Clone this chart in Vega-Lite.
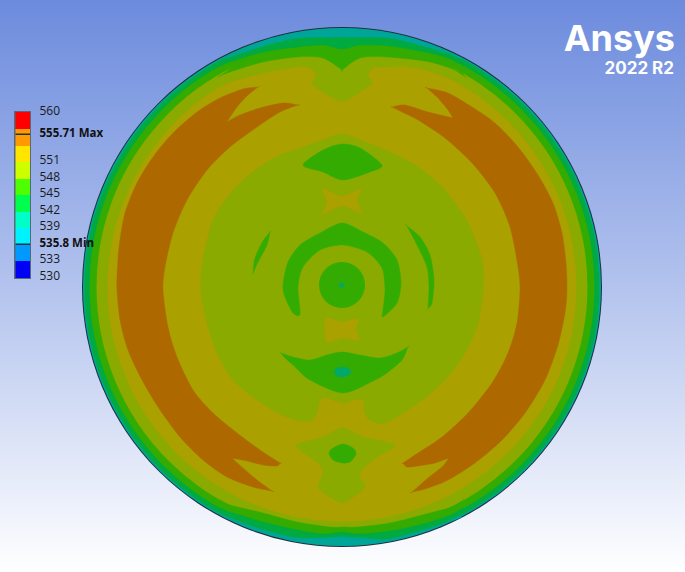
{"$schema":"https://vega.github.io/schema/vega-lite/v6.json","width":685,"height":572,"padding":0,"autosize":{"type":"none"},"config":{"view":{"stroke":null}},
"datasets":{
"bg":[{"x0":0,"x1":685,"y0":0,"y1":572}],
"rings":[{"c":"outline","cx":342,"cy":287,"r":260},{"c":"teal","cx":342,"cy":287,"r":259},{"c":"dgreen","cx":342,"cy":287,"r":257.5},{"c":"green","cx":342,"cy":287,"r":252.5},{"c":"olive","cx":342,"cy":287,"r":245.5},{"c":"yellow","cx":342,"cy":287,"r":234.5}],
"discs":[{"c":"green","cx":342,"cy":285,"r":23},{"c":"dot","cx":341.5,"cy":285,"r":2.5}],
"polys":[
{"s":"t1","c":"olive","x":222,"y":87},{"s":"t1","c":"olive","x":222,"y":87},{"s":"t1","c":"olive","x":230,"y":82},{"s":"t1","c":"olive","x":263,"y":73},{"s":"t1","c":"olive","x":297,"y":67},{"s":"t1","c":"olive","x":310,"y":68},{"s":"t1","c":"olive","x":316,"y":75},{"s":"t1","c":"olive","x":312,"y":83},{"s":"t1","c":"olive","x":320,"y":90},{"s":"t1","c":"olive","x":342,"y":101},{"s":"t1","c":"olive","x":363,"y":90},{"s":"t1","c":"olive","x":372,"y":83},{"s":"t1","c":"olive","x":368,"y":75},{"s":"t1","c":"olive","x":373,"y":68},{"s":"t1","c":"olive","x":387,"y":67},{"s":"t1","c":"olive","x":417,"y":68},{"s":"t1","c":"olive","x":460,"y":82},{"s":"t1","c":"olive","x":465,"y":87},{"s":"t1","c":"olive","x":465,"y":87},{"s":"t1","c":"olive","x":430,"y":62},{"s":"t1","c":"olive","x":400,"y":50},{"s":"t1","c":"olive","x":342,"y":40},{"s":"t1","c":"olive","x":280,"y":50},{"s":"t1","c":"olive","x":254,"y":62},
{"s":"t2","c":"green","x":220,"y":76},{"s":"t2","c":"green","x":220,"y":76},{"s":"t2","c":"green","x":230,"y":72},{"s":"t2","c":"green","x":263,"y":62},{"s":"t2","c":"green","x":297,"y":57},{"s":"t2","c":"green","x":323,"y":58},{"s":"t2","c":"green","x":342,"y":70},{"s":"t2","c":"green","x":342,"y":70},{"s":"t2","c":"green","x":360,"y":58},{"s":"t2","c":"green","x":387,"y":57},{"s":"t2","c":"green","x":430,"y":62},{"s":"t2","c":"green","x":460,"y":72},{"s":"t2","c":"green","x":464,"y":76},{"s":"t2","c":"green","x":464,"y":76},{"s":"t2","c":"green","x":430,"y":54},{"s":"t2","c":"green","x":400,"y":45},{"s":"t2","c":"green","x":342,"y":35},{"s":"t2","c":"green","x":285,"y":45},{"s":"t2","c":"green","x":254,"y":54},
{"s":"t3","c":"dgreen","x":222,"y":65},{"s":"t3","c":"dgreen","x":222,"y":65},{"s":"t3","c":"dgreen","x":230,"y":62},{"s":"t3","c":"dgreen","x":263,"y":52},{"s":"t3","c":"dgreen","x":297,"y":47},{"s":"t3","c":"dgreen","x":323,"y":45},{"s":"t3","c":"dgreen","x":342,"y":49},{"s":"t3","c":"dgreen","x":360,"y":45},{"s":"t3","c":"dgreen","x":390,"y":46},{"s":"t3","c":"dgreen","x":430,"y":53},{"s":"t3","c":"dgreen","x":460,"y":62},{"s":"t3","c":"dgreen","x":462,"y":65},{"s":"t3","c":"dgreen","x":462,"y":65},{"s":"t3","c":"dgreen","x":430,"y":47},{"s":"t3","c":"dgreen","x":400,"y":40},{"s":"t3","c":"dgreen","x":342,"y":31},{"s":"t3","c":"dgreen","x":285,"y":40},{"s":"t3","c":"dgreen","x":254,"y":47},
{"s":"t4","c":"teal","x":225,"y":58},{"s":"t4","c":"teal","x":225,"y":58},{"s":"t4","c":"teal","x":230,"y":57},{"s":"t4","c":"teal","x":263,"y":46},{"s":"t4","c":"teal","x":297,"y":38},{"s":"t4","c":"teal","x":342,"y":37},{"s":"t4","c":"teal","x":390,"y":38},{"s":"t4","c":"teal","x":430,"y":48},{"s":"t4","c":"teal","x":460,"y":57},{"s":"t4","c":"teal","x":459,"y":58},{"s":"t4","c":"teal","x":459,"y":58},{"s":"t4","c":"teal","x":430,"y":44.5},{"s":"t4","c":"teal","x":400,"y":35.2},{"s":"t4","c":"teal","x":371,"y":30.5},{"s":"t4","c":"teal","x":342,"y":28.8},{"s":"t4","c":"teal","x":313,"y":30.5},{"s":"t4","c":"teal","x":285,"y":35.2},{"s":"t4","c":"teal","x":255,"y":44.5},
{"s":"b2","c":"green","x":222,"y":501},{"s":"b2","c":"green","x":222,"y":501},{"s":"b2","c":"green","x":230,"y":505},{"s":"b2","c":"green","x":263,"y":513},{"s":"b2","c":"green","x":297,"y":522},{"s":"b2","c":"green","x":330,"y":527},{"s":"b2","c":"green","x":343,"y":527},{"s":"b2","c":"green","x":357,"y":527},{"s":"b2","c":"green","x":390,"y":523},{"s":"b2","c":"green","x":430,"y":513},{"s":"b2","c":"green","x":460,"y":505},{"s":"b2","c":"green","x":462,"y":501},{"s":"b2","c":"green","x":462,"y":501},{"s":"b2","c":"green","x":430,"y":522},{"s":"b2","c":"green","x":400,"y":535},{"s":"b2","c":"green","x":342,"y":541},{"s":"b2","c":"green","x":285,"y":535},{"s":"b2","c":"green","x":254,"y":522},
{"s":"b3","c":"dgreen","x":222,"y":509},{"s":"b3","c":"dgreen","x":222,"y":509},{"s":"b3","c":"dgreen","x":230,"y":512},{"s":"b3","c":"dgreen","x":263,"y":522},{"s":"b3","c":"dgreen","x":297,"y":530},{"s":"b3","c":"dgreen","x":323,"y":534},{"s":"b3","c":"dgreen","x":342,"y":532},{"s":"b3","c":"dgreen","x":360,"y":534},{"s":"b3","c":"dgreen","x":397,"y":530},{"s":"b3","c":"dgreen","x":430,"y":522},{"s":"b3","c":"dgreen","x":460,"y":512},{"s":"b3","c":"dgreen","x":462,"y":509},{"s":"b3","c":"dgreen","x":462,"y":509},{"s":"b3","c":"dgreen","x":430,"y":527.5},{"s":"b3","c":"dgreen","x":400,"y":537},{"s":"b3","c":"dgreen","x":342,"y":543},{"s":"b3","c":"dgreen","x":285,"y":537},{"s":"b3","c":"dgreen","x":254,"y":527.5},
{"s":"b4","c":"teal","x":225,"y":516},{"s":"b4","c":"teal","x":225,"y":516},{"s":"b4","c":"teal","x":230,"y":518},{"s":"b4","c":"teal","x":263,"y":530},{"s":"b4","c":"teal","x":297,"y":538},{"s":"b4","c":"teal","x":323,"y":538},{"s":"b4","c":"teal","x":342,"y":537},{"s":"b4","c":"teal","x":360,"y":538},{"s":"b4","c":"teal","x":390,"y":539},{"s":"b4","c":"teal","x":430,"y":528},{"s":"b4","c":"teal","x":460,"y":518},{"s":"b4","c":"teal","x":459,"y":516},{"s":"b4","c":"teal","x":459,"y":516},{"s":"b4","c":"teal","x":430,"y":529.5},{"s":"b4","c":"teal","x":400,"y":538.8},{"s":"b4","c":"teal","x":371,"y":543.5},{"s":"b4","c":"teal","x":342,"y":545.2},{"s":"b4","c":"teal","x":313,"y":543.5},{"s":"b4","c":"teal","x":285,"y":538.8},{"s":"b4","c":"teal","x":255,"y":529.5},
{"s":"L","c":"brown","x":258,"y":87},{"s":"L","c":"brown","x":258,"y":87},{"s":"L","c":"brown","x":243,"y":89},{"s":"L","c":"brown","x":220,"y":98},{"s":"L","c":"brown","x":197,"y":112},{"s":"L","c":"brown","x":173,"y":133},{"s":"L","c":"brown","x":153,"y":157},{"s":"L","c":"brown","x":137,"y":183},{"s":"L","c":"brown","x":125,"y":213},{"s":"L","c":"brown","x":119,"y":247},{"s":"L","c":"brown","x":117,"y":277},{"s":"L","c":"brown","x":117,"y":290},{"s":"L","c":"brown","x":120,"y":320},{"s":"L","c":"brown","x":128,"y":350},{"s":"L","c":"brown","x":142,"y":380},{"s":"L","c":"brown","x":160,"y":410},{"s":"L","c":"brown","x":180,"y":437},{"s":"L","c":"brown","x":203,"y":460},{"s":"L","c":"brown","x":227,"y":477},{"s":"L","c":"brown","x":253,"y":487},{"s":"L","c":"brown","x":272,"y":491},{"s":"L","c":"brown","x":272,"y":491},{"s":"L","c":"brown","x":257,"y":480},{"s":"L","c":"brown","x":243,"y":468},{"s":"L","c":"brown","x":232,"y":458},{"s":"L","c":"brown","x":232,"y":458},{"s":"L","c":"brown","x":247,"y":461},{"s":"L","c":"brown","x":263,"y":465},{"s":"L","c":"brown","x":277,"y":466},{"s":"L","c":"brown","x":280,"y":463},{"s":"L","c":"brown","x":280,"y":463},{"s":"L","c":"brown","x":260,"y":450},{"s":"L","c":"brown","x":237,"y":433},{"s":"L","c":"brown","x":213,"y":413},{"s":"L","c":"brown","x":193,"y":390},{"s":"L","c":"brown","x":177,"y":357},{"s":"L","c":"brown","x":168,"y":327},{"s":"L","c":"brown","x":163,"y":290},{"s":"L","c":"brown","x":165,"y":267},{"s":"L","c":"brown","x":173,"y":233},{"s":"L","c":"brown","x":187,"y":200},{"s":"L","c":"brown","x":207,"y":170},{"s":"L","c":"brown","x":230,"y":147},{"s":"L","c":"brown","x":257,"y":127},{"s":"L","c":"brown","x":280,"y":112},{"s":"L","c":"brown","x":298,"y":105},{"s":"L","c":"brown","x":298,"y":105},{"s":"L","c":"brown","x":283,"y":103},{"s":"L","c":"brown","x":260,"y":108},{"s":"L","c":"brown","x":240,"y":115},{"s":"L","c":"brown","x":227,"y":122},{"s":"L","c":"brown","x":227,"y":122},{"s":"L","c":"brown","x":237,"y":107},{"s":"L","c":"brown","x":248,"y":95},
{"s":"R","c":"brown","x":427,"y":88},{"s":"R","c":"brown","x":427,"y":88},{"s":"R","c":"brown","x":448,"y":93},{"s":"R","c":"brown","x":472,"y":107},{"s":"R","c":"brown","x":495,"y":123},{"s":"R","c":"brown","x":518,"y":147},{"s":"R","c":"brown","x":538,"y":175},{"s":"R","c":"brown","x":553,"y":203},{"s":"R","c":"brown","x":562,"y":233},{"s":"R","c":"brown","x":566,"y":263},{"s":"R","c":"brown","x":567,"y":290},{"s":"R","c":"brown","x":565,"y":313},{"s":"R","c":"brown","x":558,"y":345},{"s":"R","c":"brown","x":545,"y":380},{"s":"R","c":"brown","x":525,"y":413},{"s":"R","c":"brown","x":502,"y":440},{"s":"R","c":"brown","x":475,"y":463},{"s":"R","c":"brown","x":448,"y":480},{"s":"R","c":"brown","x":425,"y":489},{"s":"R","c":"brown","x":412,"y":492},{"s":"R","c":"brown","x":412,"y":492},{"s":"R","c":"brown","x":428,"y":478},{"s":"R","c":"brown","x":442,"y":467},{"s":"R","c":"brown","x":449,"y":458},{"s":"R","c":"brown","x":449,"y":458},{"s":"R","c":"brown","x":435,"y":463},{"s":"R","c":"brown","x":418,"y":466},{"s":"R","c":"brown","x":407,"y":467},{"s":"R","c":"brown","x":403,"y":463},{"s":"R","c":"brown","x":403,"y":463},{"s":"R","c":"brown","x":418,"y":453},{"s":"R","c":"brown","x":442,"y":437},{"s":"R","c":"brown","x":468,"y":413},{"s":"R","c":"brown","x":492,"y":383},{"s":"R","c":"brown","x":508,"y":353},{"s":"R","c":"brown","x":517,"y":323},{"s":"R","c":"brown","x":520,"y":290},{"s":"R","c":"brown","x":518,"y":267},{"s":"R","c":"brown","x":510,"y":227},{"s":"R","c":"brown","x":495,"y":193},{"s":"R","c":"brown","x":472,"y":163},{"s":"R","c":"brown","x":445,"y":138},{"s":"R","c":"brown","x":418,"y":120},{"s":"R","c":"brown","x":402,"y":112},{"s":"R","c":"brown","x":392,"y":107},{"s":"R","c":"brown","x":392,"y":107},{"s":"R","c":"brown","x":405,"y":105},{"s":"R","c":"brown","x":428,"y":112},{"s":"R","c":"brown","x":453,"y":118},{"s":"R","c":"brown","x":453,"y":118},{"s":"R","c":"brown","x":448,"y":110},{"s":"R","c":"brown","x":438,"y":98},
{"s":"in","c":"olive","x":201,"y":290},{"s":"in","c":"olive","x":203,"y":260},{"s":"in","c":"olive","x":213,"y":220},{"s":"in","c":"olive","x":233,"y":190},{"s":"in","c":"olive","x":258,"y":168},{"s":"in","c":"olive","x":280,"y":155},{"s":"in","c":"olive","x":300,"y":148},{"s":"in","c":"olive","x":320,"y":141},{"s":"in","c":"olive","x":342,"y":134},{"s":"in","c":"olive","x":360,"y":140},{"s":"in","c":"olive","x":390,"y":152},{"s":"in","c":"olive","x":418,"y":167},{"s":"in","c":"olive","x":445,"y":190},{"s":"in","c":"olive","x":468,"y":223},{"s":"in","c":"olive","x":482,"y":260},{"s":"in","c":"olive","x":483,"y":290},{"s":"in","c":"olive","x":478,"y":323},{"s":"in","c":"olive","x":465,"y":353},{"s":"in","c":"olive","x":445,"y":380},{"s":"in","c":"olive","x":418,"y":403},{"s":"in","c":"olive","x":385,"y":423},{"s":"in","c":"olive","x":370,"y":420},{"s":"in","c":"olive","x":365,"y":413},{"s":"in","c":"olive","x":362,"y":399},{"s":"in","c":"olive","x":343,"y":403},{"s":"in","c":"olive","x":327,"y":398},{"s":"in","c":"olive","x":320,"y":400},{"s":"in","c":"olive","x":317,"y":413},{"s":"in","c":"olive","x":312,"y":420},{"s":"in","c":"olive","x":300,"y":421},{"s":"in","c":"olive","x":280,"y":414},{"s":"in","c":"olive","x":257,"y":400},{"s":"in","c":"olive","x":233,"y":380},{"s":"in","c":"olive","x":217,"y":353},{"s":"in","c":"olive","x":207,"y":323},
{"s":"bt","c":"yellow","x":323,"y":189},{"s":"bt","c":"yellow","x":342,"y":196},{"s":"bt","c":"yellow","x":361,"y":189},{"s":"bt","c":"yellow","x":357,"y":200},{"s":"bt","c":"yellow","x":361,"y":213},{"s":"bt","c":"yellow","x":342,"y":206},{"s":"bt","c":"yellow","x":323,"y":214},{"s":"bt","c":"yellow","x":327,"y":202},
{"s":"bl","c":"yellow","x":326,"y":318},{"s":"bl","c":"yellow","x":342,"y":322},{"s":"bl","c":"yellow","x":358,"y":319},{"s":"bl","c":"yellow","x":356,"y":330},{"s":"bl","c":"yellow","x":359,"y":340},{"s":"bl","c":"yellow","x":342,"y":338},{"s":"bl","c":"yellow","x":327,"y":342},{"s":"bl","c":"yellow","x":325,"y":330},
{"s":"d","c":"green","x":303,"y":165},{"s":"d","c":"green","x":323,"y":150},{"s":"d","c":"green","x":342,"y":144},{"s":"d","c":"green","x":360,"y":148},{"s":"d","c":"green","x":382,"y":165},{"s":"d","c":"green","x":370,"y":172},{"s":"d","c":"green","x":343,"y":180},{"s":"d","c":"green","x":323,"y":172},
{"s":"a","c":"green","x":283,"y":285},{"s":"a","c":"green","x":288,"y":262},{"s":"a","c":"green","x":300,"y":245},{"s":"a","c":"green","x":320,"y":233},{"s":"a","c":"green","x":342,"y":223},{"s":"a","c":"green","x":363,"y":232},{"s":"a","c":"green","x":383,"y":243},{"s":"a","c":"green","x":397,"y":260},{"s":"a","c":"green","x":401,"y":283},{"s":"a","c":"green","x":397,"y":303},{"s":"a","c":"green","x":383,"y":317},{"s":"a","c":"green","x":383,"y":310},{"s":"a","c":"green","x":385,"y":290},{"s":"a","c":"green","x":382,"y":268},{"s":"a","c":"green","x":367,"y":252},{"s":"a","c":"green","x":343,"y":245},{"s":"a","c":"green","x":320,"y":250},{"s":"a","c":"green","x":303,"y":267},{"s":"a","c":"green","x":298,"y":287},{"s":"a","c":"green","x":300,"y":314},{"s":"a","c":"green","x":293,"y":313},{"s":"a","c":"green","x":285,"y":297},
{"s":"cl","c":"green","x":270,"y":232},{"s":"cl","c":"green","x":270,"y":232},{"s":"cl","c":"green","x":263,"y":241},{"s":"cl","c":"green","x":255,"y":258},{"s":"cl","c":"green","x":253,"y":273},{"s":"cl","c":"green","x":253,"y":273},{"s":"cl","c":"green","x":258,"y":262},{"s":"cl","c":"green","x":267,"y":245},
{"s":"cr","c":"green","x":407,"y":226},{"s":"cr","c":"green","x":407,"y":226},{"s":"cr","c":"green","x":420,"y":237},{"s":"cr","c":"green","x":430,"y":255},{"s":"cr","c":"green","x":434,"y":280},{"s":"cr","c":"green","x":432,"y":303},{"s":"cr","c":"green","x":428,"y":308},{"s":"cr","c":"green","x":428,"y":308},{"s":"cr","c":"green","x":429,"y":287},{"s":"cr","c":"green","x":427,"y":267},{"s":"cr","c":"green","x":418,"y":247},
{"s":"m","c":"green","x":281,"y":353},{"s":"m","c":"green","x":281,"y":353},{"s":"m","c":"green","x":293,"y":357},{"s":"m","c":"green","x":310,"y":360},{"s":"m","c":"green","x":327,"y":355},{"s":"m","c":"green","x":342,"y":352},{"s":"m","c":"green","x":360,"y":355},{"s":"m","c":"green","x":380,"y":358},{"s":"m","c":"green","x":397,"y":353},{"s":"m","c":"green","x":408,"y":347},{"s":"m","c":"green","x":408,"y":347},{"s":"m","c":"green","x":402,"y":360},{"s":"m","c":"green","x":387,"y":373},{"s":"m","c":"green","x":373,"y":381},{"s":"m","c":"green","x":343,"y":393},{"s":"m","c":"green","x":310,"y":380},{"s":"m","c":"green","x":293,"y":365},{"s":"m","c":"green","x":285,"y":358},
{"s":"e","c":"dot","x":334,"y":372},{"s":"e","c":"dot","x":337,"y":368},{"s":"e","c":"dot","x":343,"y":367},{"s":"e","c":"dot","x":349,"y":369},{"s":"e","c":"dot","x":351,"y":372},{"s":"e","c":"dot","x":348,"y":375},{"s":"e","c":"dot","x":343,"y":377},{"s":"e","c":"dot","x":337,"y":376},
{"s":"st","c":"olive","x":343,"y":428},{"s":"st","c":"olive","x":363,"y":437},{"s":"st","c":"olive","x":395,"y":445},{"s":"st","c":"olive","x":377,"y":457},{"s":"st","c":"olive","x":362,"y":470},{"s":"st","c":"olive","x":360,"y":477},{"s":"st","c":"olive","x":365,"y":487},{"s":"st","c":"olive","x":353,"y":497},{"s":"st","c":"olive","x":342,"y":503},{"s":"st","c":"olive","x":327,"y":495},{"s":"st","c":"olive","x":318,"y":487},{"s":"st","c":"olive","x":323,"y":473},{"s":"st","c":"olive","x":318,"y":463},{"s":"st","c":"olive","x":297,"y":448},{"s":"st","c":"olive","x":300,"y":443},{"s":"st","c":"olive","x":323,"y":437},
{"s":"g","c":"green","x":343,"y":444},{"s":"g","c":"green","x":353,"y":448},{"s":"g","c":"green","x":356,"y":454},{"s":"g","c":"green","x":350,"y":462},{"s":"g","c":"green","x":342,"y":463},{"s":"g","c":"green","x":333,"y":460},{"s":"g","c":"green","x":329,"y":453},{"s":"g","c":"green","x":333,"y":448}
],
"legend":[{"c":"frame","x0":14,"x1":31,"y0":111,"y1":279},{"c":"l10","x0":15.5,"x1":30,"y0":112,"y1":129},{"c":"l9","x0":15.5,"x1":30,"y0":129,"y1":146},{"c":"l8","x0":15.5,"x1":30,"y0":146,"y1":162},{"c":"l7","x0":15.5,"x1":30,"y0":162,"y1":179},{"c":"l6","x0":15.5,"x1":30,"y0":179,"y1":195},{"c":"l5","x0":15.5,"x1":30,"y0":195,"y1":212},{"c":"l4","x0":15.5,"x1":30,"y0":212,"y1":228},{"c":"l3","x0":15.5,"x1":30,"y0":228,"y1":245},{"c":"l2","x0":15.5,"x1":30,"y0":245,"y1":261},{"c":"l1","x0":15.5,"x1":30,"y0":261,"y1":278},{"c":"outline","x0":15.5,"x1":30,"y0":133.5,"y1":135},{"c":"outline","x0":15.5,"x1":30,"y0":243.5,"y1":245}],
"lab":[{"t":"560","x":39.5,"y":111},{"t":"551","x":39.5,"y":160},{"t":"548","x":39.5,"y":177},{"t":"545","x":39.5,"y":193},{"t":"542","x":39.5,"y":210},{"t":"539","x":39.5,"y":226},{"t":"533","x":39.5,"y":259},{"t":"530","x":39.5,"y":276}],
"labb":[{"t":"555.71 Max","x":39.5,"y":134},{"t":"535.8 Min","x":39.5,"y":244}],
"logo1":[{"t":"Ansys","x":675,"y":51}],
"logo2":[{"t":"2022 R2","x":674,"y":74}]
},
"layer":[
{"data":{"name":"bg"},"mark":{"type":"rect","fill":{"gradient":"linear","x1":0,"y1":0,"x2":0,"y2":1,"stops":[{"offset":0,"color":"#6C8BDD"},{"offset":0.5,"color":"#B3C3EE"},{"offset":1,"color":"#FFFFFF"}]}},"encoding":{"x":{"field":"x0","type":"quantitative","scale":{"domain":[0,685],"nice":false,"zero":false},"axis":null},"x2":{"field":"x1"},"y":{"field":"y0","type":"quantitative","scale":{"domain":[572,0],"nice":false,"zero":false},"axis":null},"y2":{"field":"y1"}}},
{"data":{"name":"rings"},"mark":{"type":"arc","theta":0,"theta2":6.2832},"encoding":{"x":{"field":"cx","type":"quantitative","scale":{"domain":[0,685],"nice":false,"zero":false},"axis":null},"y":{"field":"cy","type":"quantitative","scale":{"domain":[572,0],"nice":false,"zero":false},"axis":null},"radius":{"field":"r","type":"quantitative","stack":null,"scale":{"domain":[0,572],"range":[0,572]}},"fill":{"field":"c","type":"nominal","legend":null,"scale":{"domain":["outline","teal","dgreen","green","olive","yellow","brown","dot","frame","l10","l9","l8","l7","l6","l5","l4","l3","l2","l1"],"range":["#22303C","#00A59A","#00AA40","#33AB00","#8AAA00","#AAA000","#AD6800","#00A86A","#5B6878","#FF0000","#FF9A00","#FFE500","#CCFF00","#4DFF00","#00FF4D","#00FFC8","#00F2FF","#009AFF","#0000F5"]}}}},
{"data":{"name":"polys"},"mark":{"type":"line","interpolate":"cardinal-closed","tension":0.2,"order":false,"strokeWidth":0.4},"encoding":{"x":{"field":"x","type":"quantitative","scale":{"domain":[0,685],"nice":false,"zero":false},"axis":null},"y":{"field":"y","type":"quantitative","scale":{"domain":[572,0],"nice":false,"zero":false},"axis":null},"detail":{"field":"s"},"fill":{"field":"c","type":"nominal","legend":null,"scale":{"domain":["outline","teal","dgreen","green","olive","yellow","brown","dot","frame","l10","l9","l8","l7","l6","l5","l4","l3","l2","l1"],"range":["#22303C","#00A59A","#00AA40","#33AB00","#8AAA00","#AAA000","#AD6800","#00A86A","#5B6878","#FF0000","#FF9A00","#FFE500","#CCFF00","#4DFF00","#00FF4D","#00FFC8","#00F2FF","#009AFF","#0000F5"]}},"stroke":{"field":"c","type":"nominal","legend":null,"scale":{"domain":["outline","teal","dgreen","green","olive","yellow","brown","dot","frame","l10","l9","l8","l7","l6","l5","l4","l3","l2","l1"],"range":["#22303C","#00A59A","#00AA40","#33AB00","#8AAA00","#AAA000","#AD6800","#00A86A","#5B6878","#FF0000","#FF9A00","#FFE500","#CCFF00","#4DFF00","#00FF4D","#00FFC8","#00F2FF","#009AFF","#0000F5"]}}}},
{"data":{"name":"discs"},"mark":{"type":"arc","theta":0,"theta2":6.2832},"encoding":{"x":{"field":"cx","type":"quantitative","scale":{"domain":[0,685],"nice":false,"zero":false},"axis":null},"y":{"field":"cy","type":"quantitative","scale":{"domain":[572,0],"nice":false,"zero":false},"axis":null},"radius":{"field":"r","type":"quantitative","stack":null,"scale":{"domain":[0,572],"range":[0,572]}},"fill":{"field":"c","type":"nominal","legend":null}}},
{"data":{"name":"legend"},"mark":{"type":"rect"},"encoding":{"x":{"field":"x0","type":"quantitative","scale":{"domain":[0,685],"nice":false,"zero":false},"axis":null},"x2":{"field":"x1"},"y":{"field":"y0","type":"quantitative","scale":{"domain":[572,0],"nice":false,"zero":false},"axis":null},"y2":{"field":"y1"},"fill":{"field":"c","type":"nominal","legend":null}}},
{"data":{"name":"lab"},"mark":{"type":"text","align":"left","baseline":"middle","font":"Open Sans","fontSize":12,"color":"#1a1a1a"},"encoding":{"x":{"field":"x","type":"quantitative","scale":{"domain":[0,685],"nice":false,"zero":false},"axis":null},"y":{"field":"y","type":"quantitative","scale":{"domain":[572,0],"nice":false,"zero":false},"axis":null},"text":{"field":"t"}}},
{"data":{"name":"labb"},"mark":{"type":"text","align":"left","baseline":"middle","font":"Open Sans","fontSize":11.5,"fontWeight":"bold","color":"#111111"},"encoding":{"x":{"field":"x","type":"quantitative","scale":{"domain":[0,685],"nice":false,"zero":false},"axis":null},"y":{"field":"y","type":"quantitative","scale":{"domain":[572,0],"nice":false,"zero":false},"axis":null},"text":{"field":"t"}}},
{"data":{"name":"logo1"},"mark":{"type":"text","align":"right","baseline":"alphabetic","font":"Inter","fontSize":36,"fontWeight":"bold","color":"#FFFFFF"},"encoding":{"x":{"field":"x","type":"quantitative","scale":{"domain":[0,685],"nice":false,"zero":false},"axis":null},"y":{"field":"y","type":"quantitative","scale":{"domain":[572,0],"nice":false,"zero":false},"axis":null},"text":{"field":"t"}}},
{"data":{"name":"logo2"},"mark":{"type":"text","align":"right","baseline":"alphabetic","font":"Inter","fontSize":17,"fontWeight":"bold","color":"#FFFFFF"},"encoding":{"x":{"field":"x","type":"quantitative","scale":{"domain":[0,685],"nice":false,"zero":false},"axis":null},"y":{"field":"y","type":"quantitative","scale":{"domain":[572,0],"nice":false,"zero":false},"axis":null},"text":{"field":"t"}}}
]
}
